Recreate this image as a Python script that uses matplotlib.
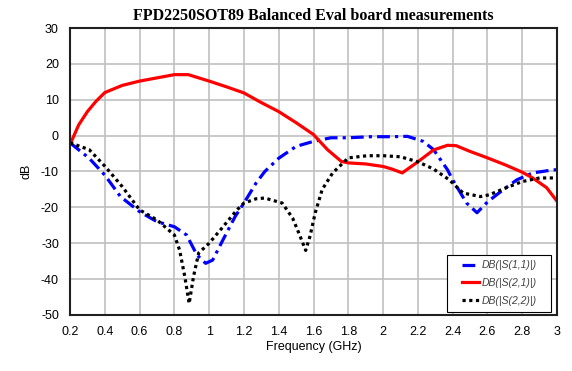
import numpy as np
import matplotlib
matplotlib.use("Agg")
import matplotlib.pyplot as plt
from matplotlib.patches import Rectangle

plt.rcParams['axes.unicode_minus'] = False

# S21 (red, solid)
f_s21 = [0.2, 0.25, 0.3, 0.35, 0.4, 0.5, 0.6, 0.7, 0.8, 0.88, 1.0, 1.1, 1.2, 1.3,
         1.4, 1.5, 1.6, 1.68, 1.76, 1.8, 1.9, 2.0, 2.05, 2.11, 2.2, 2.29, 2.37,
         2.42, 2.5, 2.6, 2.7, 2.8, 2.86, 2.94, 3.0]
db_s21 = [-2.5, 3.0, 6.7, 9.6, 12.0, 14.0, 15.2, 16.1, 17.0, 17.0, 15.2, 13.6, 11.9,
          9.2, 6.7, 3.6, 0.3, -3.9, -7.2, -7.6, -7.9, -8.6, -9.3, -10.4, -7.3, -4.0,
          -2.7, -2.8, -4.4, -6.2, -8.1, -10.2, -11.8, -14.5, -18.3]

# S11 (blue, dash-dot)
f_s11 = [0.2, 0.31, 0.4, 0.49, 0.6, 0.7, 0.8, 0.87, 0.93, 0.98, 1.02, 1.08, 1.15,
         1.2, 1.27, 1.32, 1.4, 1.5, 1.6, 1.7, 1.8, 1.93, 2.05, 2.14, 2.23, 2.29,
         2.37, 2.4, 2.48, 2.54, 2.6, 2.69, 2.77, 2.86, 2.97, 3.0]
db_s11 = [-2.0, -6.3, -11.0, -17.0, -21.2, -24.0, -25.4, -27.7, -33.3, -35.6, -34.7,
          -29.0, -22.5, -18.8, -13.2, -10.0, -6.3, -3.0, -1.6, -0.6, -0.6, -0.3,
          -0.3, -0.2, -1.6, -3.9, -9.5, -12.3, -18.8, -21.5, -18.5, -15.1, -12.3,
          -10.4, -9.6, -9.5]

# S22 (black, dotted)
f_s22 = [0.2, 0.31, 0.4, 0.5, 0.6, 0.7, 0.8, 0.83, 0.86, 0.885, 0.91, 0.94, 1.0,
         1.08, 1.16, 1.2, 1.27, 1.32, 1.42, 1.48, 1.52, 1.555, 1.58, 1.61, 1.65,
         1.71, 1.8, 1.91, 2.0, 2.1, 2.2, 2.29, 2.38, 2.46, 2.56, 2.61, 2.71, 2.8,
         2.9, 3.0]
db_s22 = [-2.0, -3.9, -8.5, -14.2, -20.7, -23.5, -27.7, -31.9, -39.3, -46.8, -39.3,
          -32.7, -30.0, -25.4, -20.7, -18.8, -17.6, -17.4, -18.8, -23.0, -27.7,
          -32.0, -28.0, -21.5, -15.0, -10.4, -6.2, -5.6, -5.6, -5.9, -7.3, -9.3,
          -12.3, -16.0, -17.0, -16.5, -14.5, -12.8, -11.8, -11.8]

xticks = np.round(np.arange(0.2, 3.01, 0.2), 1)
yticks = np.arange(-50, 31, 10)

fig = plt.figure(figsize=(5.72, 3.71), dpi=100)
ax = fig.add_axes([0.1224, 0.151, 0.8514, 0.7735])

ax.plot(f_s11, db_s11, color="#0000ff", lw=2.3, ls=(0, (4, 1.6, 1, 1.6)),
        dash_capstyle="butt", label="DB(|S(1,1)|)")
ax.plot(f_s21, db_s21, color="#ff0000", lw=2.3, label="DB(|S(2,1)|)")
ax.plot(f_s22, db_s22, color="black", lw=2.3, ls=(0, (1, 1.1)),
        dash_capstyle="butt", label="DB(|S(2,2)|)")

ax.set_xlim(0.2, 3.0)
ax.set_ylim(-50, 30)
ax.set_xticks(xticks)
ax.set_xticklabels(["%g" % v for v in xticks])
ax.set_yticks(yticks)
ax.grid(True, color="#c0c0c0", lw=1.2)
ax.set_axisbelow(True)
ax.tick_params(length=0, labelsize=9, pad=8)
for lab in ax.get_xticklabels() + ax.get_yticklabels():
    lab.set_family("Liberation Sans")
for s in ax.spines.values():
    s.set_linewidth(1.5)
    s.set_color("#202020")

ax.set_xlabel("Frequency (GHz)", family="Liberation Sans", fontsize=9, labelpad=2)
ax.set_ylabel("dB", family="Liberation Sans", fontsize=9, labelpad=6)
ax.set_title("FPD2250SOT89 Balanced Eval board measurements",
             family="Liberation Serif", fontweight="bold", fontsize=11.5, pad=6)

# legend content sits inside a wider box than matplotlib would give it
leg = ax.legend(loc="lower right", bbox_to_anchor=(0.988 - 0.017, 0.0115),
                borderaxespad=0, frameon=False,
                handlelength=1.6, handletextpad=0.3,
                prop={"family": "Liberation Sans", "style": "italic", "size": 7.5},
                borderpad=0.55, labelspacing=0.75)
for t in leg.get_texts():
    t.set_color("#404040")
fig.canvas.draw()
bb = leg.get_window_extent().transformed(ax.transAxes.inverted())
box = Rectangle((bb.x0 - 0.02, bb.y0), bb.width + 0.02 + 0.017, bb.height,
                transform=ax.transAxes, facecolor="white", edgecolor="black",
                lw=0.8, zorder=4.9)
ax.add_patch(box)

fig.savefig("out.png", dpi=100)
